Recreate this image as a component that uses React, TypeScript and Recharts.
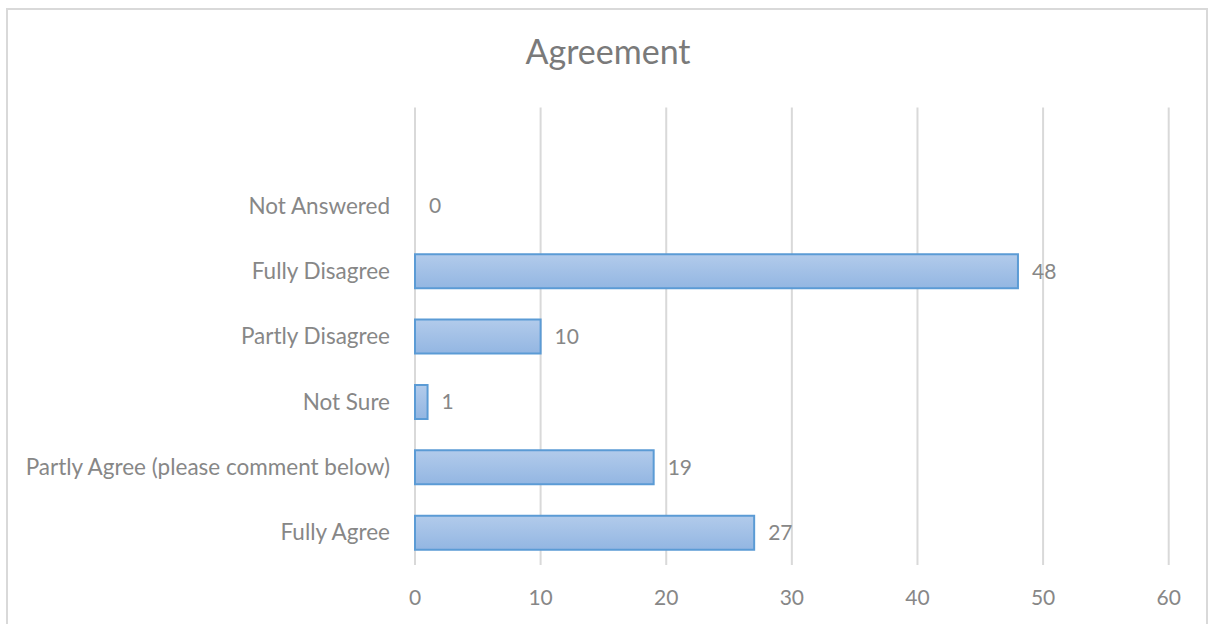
import React from 'react';
import { BarChart, Bar, XAxis, YAxis, CartesianGrid, LabelList, Rectangle } from 'recharts';

// top row is an empty slot, like the Excel plot area
const categories = [
  ' ',
  'Not Answered',
  'Fully Disagree',
  'Partly Disagree',
  'Not Sure',
  'Partly Agree (please comment below)',
  'Fully Agree',
];
const counts = [null, 0, 48, 10, 1, 19, 27];
const xTicks = [0, 10, 20, 30, 40, 50, 60];

const data = categories.map((name, i) => ({ name, value: counts[i] }));

const FONT = 'Lato, "Open Sans", sans-serif';
const TEXT = '#878787';

const renderValue = (props: any) => {
  const { x, y, width, height, value } = props;
  if (value === null || value === undefined) return null;
  return (
    <text
      x={x + width + 14}
      y={y + height / 2}
      dy="0.355em"
      fill={TEXT}
      fontSize={21}
      fontFamily={FONT}
      textAnchor="start"
    >
      {value}
    </text>
  );
};

// zero bars get a tiny min size so their label still shows; draw nothing for them
const renderBar = (props: any) => {
  if (!props.value) return <g />;
  return <Rectangle {...props} />;
};

export default function App() {
  return (
    <div style={{ position: 'absolute', left: 0, top: 0, width: 1209, height: 624, background: '#fff', overflow: 'hidden' }}>
      <div
        style={{
          position: 'absolute',
          left: 6,
          top: 8,
          width: 1198,
          height: 640,
          border: '2px solid #d9d9d9',
        }}
      />
      <svg width={1209} height={80} style={{ position: 'absolute', left: 0, top: 0 }}>
        <text x={608} y={64} textAnchor="middle" fill="#7a7a7a" fontSize={34} fontFamily={FONT}>
          Agreement
        </text>
      </svg>
      <div style={{ position: 'absolute', left: 0, top: 0 }}>
        <BarChart
          width={1209}
          height={624}
          data={data}
          layout="vertical"
          margin={{ top: 107.5, right: 40.3, bottom: 19, left: 0 }}
        >
          <defs>
            <linearGradient id="barFill" x1="0" y1="0" x2="0" y2="1">
              <stop offset="0%" stopColor="#b2cbeb" />
              <stop offset="100%" stopColor="#93b6e2" />
            </linearGradient>
          </defs>
          <CartesianGrid horizontal={false} stroke="#d9d9d9" strokeWidth={2} />
          <XAxis
            type="number"
            domain={[0, 60]}
            ticks={xTicks}
            axisLine={false}
            tickLine={false}
            tickMargin={19}
            height={40}
            tick={{ fill: TEXT, fontSize: 21, fontFamily: FONT }}
          />
          <YAxis
            type="category"
            dataKey="name"
            width={415}
            axisLine={false}
            tickLine={false}
            tickMargin={19}
            interval={0}
            tick={{ fill: TEXT, fontSize: 22.5, fontFamily: FONT }}
          />
          <Bar
            dataKey="value"
            fill="url(#barFill)"
            stroke="#5b9bd5"
            strokeWidth={2}
            barSize={34}
            minPointSize={0.01}
            shape={renderBar}
            isAnimationActive={false}
          >
            <LabelList dataKey="value" content={renderValue} />
          </Bar>
        </BarChart>
      </div>
    </div>
  );
}
